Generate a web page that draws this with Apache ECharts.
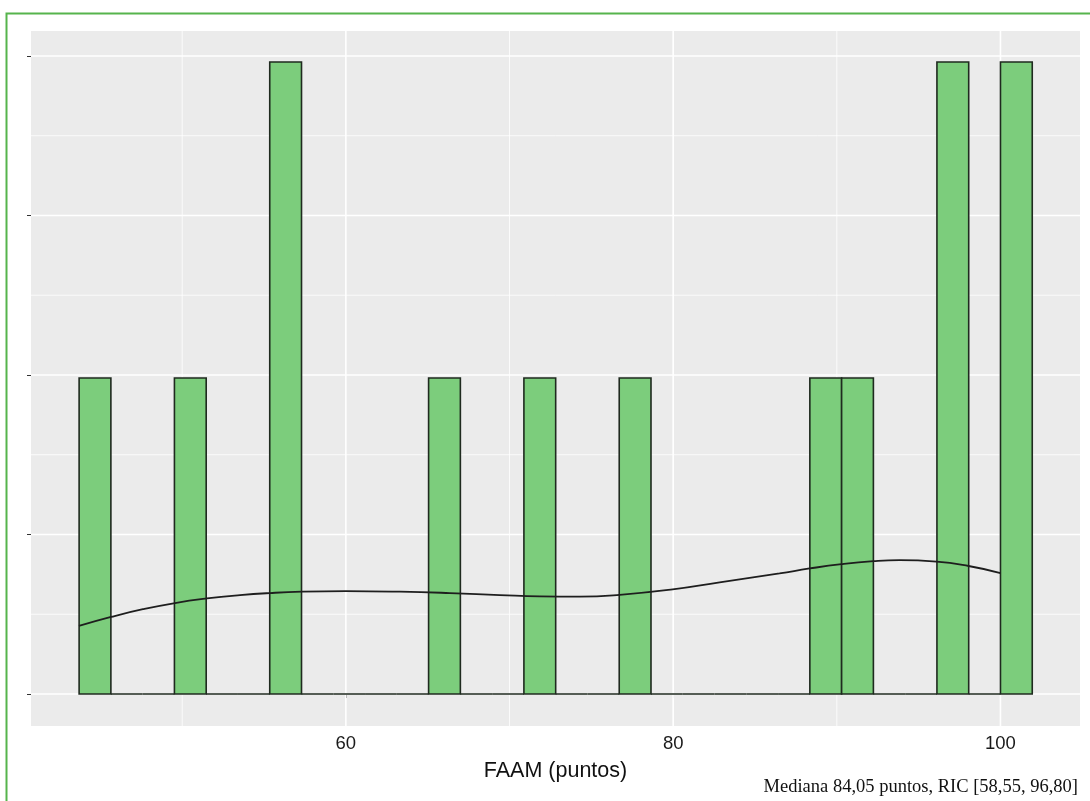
<!DOCTYPE html>
<html><head><meta charset="utf-8">
<script src="https://cdn.jsdelivr.net/npm/echarts@6/dist/echarts.min.js"></script>
<style>html,body{margin:0;padding:0;background:#fff}#c{width:1090px;height:801px}</style>
</head><body><div id="c"></div>
<script>
// ---- data ----
const binStart = 43.70;          // left edge of first histogram bin
const binWidth = 1.9414;         // ggplot bins = 30
const binCounts = [2,0,0,2,0,0,4,0,0,0,0,2,0,0,2,0,0,2,0,0,0,0,0,2,2,0,0,4,0,4];
const densityX = [43.69,45.65,47.60,49.56,51.51,53.53,55.36,57.31,60.00,63.30,66.35,69.40,71.85,74.29,76.73,79.97,82.84,86.50,88.34,90.29,92.24,93.83,96.09,98.05,100.00];
const densityY = [0.00853,0.00966,0.01063,0.01141,0.01198,0.01240,0.01266,0.01283,0.01290,0.01283,0.01266,0.01241,0.01224,0.01222,0.01244,0.01312,0.01400,0.01512,0.01574,0.01628,0.01665,0.01678,0.01660,0.01605,0.01517];
const xTickValues = [60,80,100];
const xMinorValues = [50,70,90];
const yTickValues = [0,0.02,0.04,0.06,0.08];
const yMinorValues = [0.01,0.03,0.05,0.07];
const xAxisTitle = 'FAAM (puntos)';
const captionText = 'Mediana 84,05 puntos, RIC [58,55, 96,80]';

// ---- build ----
const nTotal = binCounts.reduce((a,b)=>a+b,0);
const binData = binCounts.map((c,i)=>[binStart+i*binWidth, binStart+(i+1)*binWidth, c/(nTotal*binWidth)]);
const densityData = densityX.map((x,i)=>[x, densityY[i]]);
const gridData = [];
xTickValues.forEach(v=>gridData.push([0,v,1]));
xMinorValues.forEach(v=>gridData.push([0,v,0]));
yTickValues.forEach(v=>gridData.push([1,v,1]));
yMinorValues.forEach(v=>gridData.push([1,v,0]));

const chart = echarts.init(document.getElementById('c'), null, {renderer:'canvas'});
const sans = "'Liberation Sans', Arial, sans-serif";
chart.setOption({
  animation:false,
  backgroundColor:'#ffffff',
  grid:{left:31, top:31, right:10, bottom:75, show:true, backgroundColor:'#EBEBEB', borderWidth:0},
  xAxis:{
    type:'value', min:40.76, max:104.86,
    axisLine:{show:false},
    axisTick:{show:true, customValues:xTickValues, length:4, lineStyle:{color:'#333', width:1}},
    axisLabel:{show:true, customValues:xTickValues, margin:8, fontSize:18.5, color:'#1a1a1a', fontFamily:sans},
    splitLine:{show:false},
    name:xAxisTitle, nameLocation:'middle', nameGap:34,
    nameTextStyle:{fontSize:21.5, color:'#111', fontFamily:sans, verticalAlign:'top'}
  },
  yAxis:{
    type:'value', min:-0.00401, max:0.08313,
    axisLine:{show:false},
    axisTick:{show:true, customValues:yTickValues, length:4, lineStyle:{color:'#333', width:1}},
    axisLabel:{show:false},
    splitLine:{show:false}
  },
  graphic:[
    {type:'rect', left:4, top:11, shape:{x:0,y:0,width:1200,height:900}, style:{fill:'none', stroke:'#56b44c', lineWidth:2}, silent:true},
    {type:'text', style:{text:captionText, x:1078, y:787, align:'right', verticalAlign:'middle', font:"18.5px 'Liberation Serif', 'Times New Roman', serif", fill:'#111'}}
  ],
  series:[
    {
      type:'custom', z:1, silent:true, data:gridData,
      renderItem:function(params, api){
        const cs = params.coordSys;
        const dir = api.value(0), v = api.value(1), major = api.value(2);
        const w = major ? 1.6 : 0.8;
        let shape;
        if(dir===0){ const p = api.coord([v,0]); shape={x1:p[0],y1:cs.y,x2:p[0],y2:cs.y+cs.height}; }
        else { const p = api.coord([50,v]); shape={x1:cs.x,y1:p[1],x2:cs.x+cs.width,y2:p[1]}; }
        return {type:'line', shape:shape, style:{stroke:'#ffffff', lineWidth:w}};
      }
    },
    {
      type:'custom', z:2, data:binData, encode:{x:[0,1], y:2},
      renderItem:function(params, api){
        const p0 = api.coord([api.value(0), 0]);
        const p1 = api.coord([api.value(1), api.value(2)]);
        return {type:'rect', shape:{x:p0[0], y:p1[1], width:p1[0]-p0[0], height:p0[1]-p1[1]},
                style:{fill:'#7CCD7C', stroke:'#1f2a1f', lineWidth:1.6}};
      }
    },
    {
      type:'line', z:3, data:densityData, smooth:0.5, showSymbol:false, symbol:'none',
      lineStyle:{color:'#1e1e1e', width:1.8}
    }
  ]
});
</script></body></html>
